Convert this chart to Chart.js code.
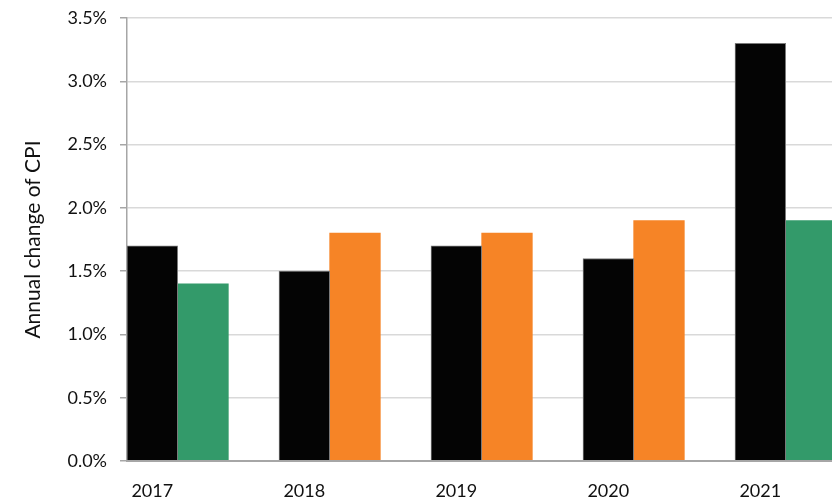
<!DOCTYPE html>
<html>
<head>
<meta charset="utf-8">
<script src="https://cdn.jsdelivr.net/npm/chart.js@4.4.1/dist/chart.umd.min.js"></script>
<style>
    html, body { margin: 0; padding: 0; overflow: hidden; background: #ffffff; }
    #wrap { position: relative; width: 887px; height: 504px; }
</style>
</head>
<body>
<div id="wrap"><canvas id="cpi"></canvas></div>
<script>
const years = ['2017', '2018', '2019', '2020', '2021'];
const actualCpi = [1.7, 1.5, 1.7, 1.6, 3.3];
const comparisonCpi = [1.4, 1.8, 1.8, 1.9, 1.9];
const comparisonColors = ['#339a6a', '#f68426', '#f68426', '#f68426', '#339a6a'];
const yTicks = [0, 0.5, 1.0, 1.5, 2.0, 2.5, 3.0, 3.5];

const fontFamily = 'Lato, "Open Sans", sans-serif';
const textColor = '#111111';
const axisColor = '#a6a6a6';
const gridColor = '#d9d9d9';

new Chart(document.getElementById('cpi'), {
    type: 'bar',
    data: {
        labels: years,
        datasets: [
            {
                label: 'Actual',
                data: actualCpi,
                backgroundColor: '#040404',
                borderColor: '#7a7a7a',
                borderWidth: 1
            },
            {
                label: 'Comparison',
                data: comparisonCpi,
                backgroundColor: comparisonColors,
                borderWidth: 0
            },
            {
                // empty slot so each pair sits at the left of its category
                label: '',
                data: years.map(() => null)
            }
        ]
    },
    options: {
        responsive: true,
        maintainAspectRatio: false,
        animation: false,
        layout: { padding: { top: 18, right: 0, left: 0, bottom: 0 } },
        plugins: {
            legend: { display: false },
            tooltip: { enabled: false }
        },
        datasets: {
            bar: { categoryPercentage: 1, barPercentage: 1 }
        },
        scales: {
            x: {
                grid: { display: false },
                border: { display: true, color: axisColor, width: 2, z: 1 },
                afterFit: scale => { scale.height = 43; },
                ticks: {
                    color: textColor,
                    font: { family: fontFamily, size: 18 },
                    padding: 11,
                    labelOffset: -50.7,
                    maxRotation: 0
                }
            },
            y: {
                min: 0,
                max: 3.5,
                afterFit: scale => {
                    scale.width = 127;
                    // plot top is set by layout padding alone
                    scale.paddingTop = 0;
                    scale.paddingBottom = 0;
                },
                afterBuildTicks: scale => { scale.ticks = yTicks.map(v => ({ value: v })); },
                grid: {
                    color: ctx => ctx.tick && ctx.tick.value === 0 ? axisColor : gridColor,
                    tickColor: axisColor,
                    tickLength: 7,
                    lineWidth: 1.5
                },
                border: { display: true, color: axisColor, width: 1.5 },
                ticks: {
                    color: textColor,
                    font: { family: fontFamily, size: 18 },
                    padding: 13,
                    callback: v => v.toFixed(1) + '%'
                },
                title: {
                    display: true,
                    text: 'Annual change of CPI',
                    color: textColor,
                    font: { family: fontFamily, size: 21 },
                    padding: { top: 21, bottom: 0 }
                }
            }
        }
    }
});
</script>
</body>
</html>
